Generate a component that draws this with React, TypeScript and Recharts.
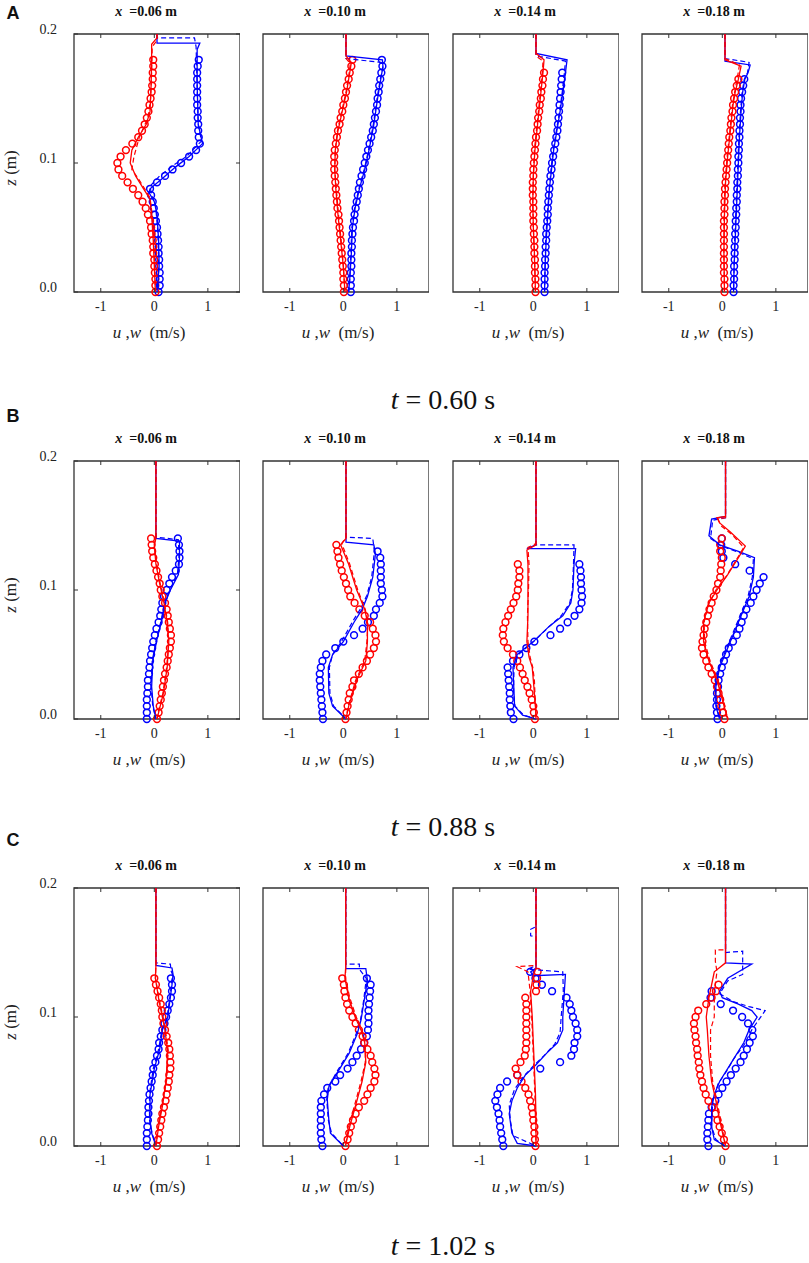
import React from "react";
import { ScatterChart, Scatter, XAxis, YAxis, ReferenceArea } from "recharts";

// measurement levels (m) shared by every experimental profile
const zLevels = [0, 0.005, 0.01, 0.015, 0.02, 0.025, 0.03, 0.035, 0.04, 0.045, 0.05, 0.055, 0.06, 0.065, 0.07, 0.075, 0.08, 0.085, 0.09, 0.095, 0.1, 0.105, 0.11, 0.115, 0.12, 0.125, 0.13, 0.135, 0.14, 0.145, 0.15, 0.155, 0.16, 0.165, 0.17, 0.175, 0.18];
const xTicks = [-1, 0, 1];
const zTicks = [0, 0.1, 0.2];
const stations = ["0.06", "0.10", "0.14", "0.18"];
const times = ["0.60", "0.88", "1.02"];

// ---- t = 0.60 s ----
const A1_uExp = [0.08, 0.1, 0.1, 0.1, 0.09, 0.09, 0.08, 0.08, 0.07, 0.06, 0.05, 0.03, 0.01, -0.01, -0.03, -0.06, -0.08, 0.05, 0.2, 0.34, 0.5, 0.65, 0.78, 0.85, 0.83, 0.82, 0.82, 0.81, 0.81, 0.8, 0.8, 0.8, 0.8, 0.8, 0.8, 0.81, 0.83];
const A1_wExp = [0.02, 0.02, 0.02, 0.01, 0, 0, -0.02, -0.02, -0.03, -0.05, -0.06, -0.08, -0.12, -0.16, -0.22, -0.3, -0.4, -0.5, -0.6, -0.67, -0.69, -0.63, -0.53, -0.41, -0.3, -0.23, -0.18, -0.14, -0.11, -0.09, -0.07, -0.05, -0.04, -0.03, -0.03, -0.02, -0.02];
const A1_uSolid = [[0.05, 0.2], [0.05, 0.193], [0.85, 0.193], [0.8, 0.188], [0.8, 0.16], [0.82, 0.13], [0.9, 0.115], [0.65, 0.105], [0.4, 0.097], [0.15, 0.088], [-0.08, 0.08], [-0.1, 0.077], [0, 0.07], [0.05, 0.06], [0.08, 0.04], [0.09, 0.02], [0.05, 0]];
const A1_uDash = [[0.05, 0.2], [0.05, 0.197], [0.75, 0.197], [0.78, 0.19], [0.8, 0.16], [0.82, 0.13], [0.88, 0.117], [0.6, 0.105], [0.35, 0.098], [0.1, 0.09], [-0.08, 0.082], [-0.05, 0.075], [0.02, 0.068], [0.06, 0.05], [0.08, 0.03], [0.08, 0.01], [0.07, 0]];
const A1_wSolid = [[0.05, 0.2], [0.05, 0.197], [-0.05, 0.192], [-0.05, 0.18], [-0.06, 0.16], [-0.08, 0.14], [-0.15, 0.13], [-0.3, 0.12], [-0.42, 0.11], [-0.45, 0.1], [-0.35, 0.09], [-0.2, 0.08], [-0.08, 0.072], [-0.05, 0.06], [-0.02, 0.04], [0, 0.02], [0.02, 0]];
const A1_wDash = [[0.05, 0.2], [0.05, 0.195], [-0.04, 0.19], [-0.05, 0.17], [-0.07, 0.15], [-0.12, 0.135], [-0.28, 0.12], [-0.38, 0.105], [-0.42, 0.095], [-0.3, 0.088], [-0.18, 0.08], [-0.08, 0.073], [-0.04, 0.06], [-0.01, 0.04], [0.01, 0.02], [0.02, 0]];

const A2_uExp = [0.14, 0.14, 0.14, 0.14, 0.15, 0.15, 0.15, 0.16, 0.16, 0.17, 0.18, 0.2, 0.21, 0.23, 0.25, 0.27, 0.29, 0.31, 0.34, 0.37, 0.4, 0.43, 0.46, 0.49, 0.52, 0.55, 0.57, 0.59, 0.61, 0.63, 0.64, 0.66, 0.67, 0.69, 0.71, 0.73, 0.72];
const A2_wExp = [0.01, 0.01, 0, 0, -0.01, -0.02, -0.03, -0.04, -0.05, -0.06, -0.07, -0.08, -0.09, -0.11, -0.12, -0.13, -0.14, -0.15, -0.16, -0.17, -0.17, -0.17, -0.16, -0.14, -0.12, -0.1, -0.07, -0.05, -0.02, 0, 0.03, 0.05, 0.07, 0.1, 0.12, 0.15, 0.17];
const A2_uSolid = [[0.05, 0.2], [0.05, 0.183], [0.73, 0.18], [0.74, 0.175], [0.7, 0.165], [0.64, 0.15], [0.57, 0.13], [0.48, 0.11], [0.4, 0.095], [0.3, 0.08], [0.22, 0.065], [0.17, 0.05], [0.15, 0.03], [0.12, 0.01], [0.1, 0]];
const A2_uDash = [[0.05, 0.2], [0.05, 0.181], [0.7, 0.178], [0.74, 0.174], [0.69, 0.165], [0.63, 0.15], [0.56, 0.13], [0.47, 0.11], [0.39, 0.095], [0.29, 0.08], [0.21, 0.065], [0.16, 0.05], [0.14, 0.03], [0.12, 0.01], [0.1, 0]];
const A2_wSolid = [[0.05, 0.2], [0.05, 0.183], [0.15, 0.178], [0.12, 0.17], [0.06, 0.155], [-0.02, 0.14], [-0.1, 0.125], [-0.15, 0.11], [-0.16, 0.095], [-0.14, 0.08], [-0.1, 0.06], [-0.05, 0.04], [0, 0.02], [0.03, 0]];
const A2_wDash = [[0.05, 0.2], [0.05, 0.181], [0.13, 0.177], [0.11, 0.17], [0.05, 0.155], [-0.03, 0.14], [-0.11, 0.125], [-0.15, 0.11], [-0.16, 0.095], [-0.13, 0.08], [-0.09, 0.06], [-0.04, 0.04], [0, 0.02], [0.03, 0]];

const A3_uExp = [0.21, 0.21, 0.21, 0.21, 0.22, 0.22, 0.23, 0.23, 0.24, 0.24, 0.25, 0.26, 0.27, 0.27, 0.28, 0.29, 0.3, 0.31, 0.32, 0.34, 0.35, 0.37, 0.39, 0.41, 0.43, 0.45, 0.46, 0.47, 0.48, 0.49, 0.5, 0.51, 0.52, 0.53, 0.54];
const A3_wExp = [0.04, 0.04, 0.04, 0.03, 0.03, 0.03, 0.02, 0.02, 0.02, 0.01, 0.01, 0, 0, 0, 0, -0.01, -0.01, -0.01, 0, 0, 0.01, 0.02, 0.03, 0.04, 0.05, 0.07, 0.08, 0.09, 0.11, 0.12, 0.14, 0.15, 0.17, 0.18, 0.2];
const A3_uSolid = [[0.05, 0.2], [0.05, 0.185], [0.63, 0.18], [0.6, 0.17], [0.55, 0.155], [0.5, 0.14], [0.44, 0.125], [0.38, 0.11], [0.34, 0.095], [0.3, 0.08], [0.27, 0.06], [0.24, 0.04], [0.22, 0.02], [0.21, 0]];
const A3_uDash = [[0.05, 0.2], [0.05, 0.183], [0.6, 0.179], [0.58, 0.17], [0.54, 0.155], [0.49, 0.14], [0.43, 0.125], [0.37, 0.11], [0.33, 0.095], [0.3, 0.08], [0.26, 0.06], [0.23, 0.04], [0.22, 0.02], [0.21, 0]];
const A3_wSolid = [[0.05, 0.2], [0.05, 0.185], [0.2, 0.18], [0.18, 0.17], [0.13, 0.15], [0.08, 0.13], [0.03, 0.11], [0, 0.09], [-0.01, 0.07], [0, 0.05], [0.02, 0.03], [0.04, 0]];
const A3_wDash = [[0.05, 0.2], [0.05, 0.183], [0.18, 0.179], [0.17, 0.17], [0.12, 0.15], [0.07, 0.13], [0.02, 0.11], [0, 0.09], [-0.01, 0.07], [0, 0.05], [0.02, 0.03], [0.04, 0]];

const A4_uExp = [0.21, 0.21, 0.22, 0.22, 0.22, 0.23, 0.23, 0.23, 0.24, 0.24, 0.25, 0.25, 0.26, 0.26, 0.27, 0.27, 0.28, 0.28, 0.29, 0.29, 0.3, 0.3, 0.31, 0.31, 0.32, 0.32, 0.33, 0.33, 0.34, 0.34, 0.35, 0.37, 0.39, 0.41];
const A4_wExp = [0.04, 0.04, 0.04, 0.03, 0.03, 0.03, 0.03, 0.03, 0.03, 0.03, 0.03, 0.03, 0.04, 0.04, 0.04, 0.05, 0.05, 0.06, 0.07, 0.08, 0.09, 0.1, 0.11, 0.12, 0.13, 0.15, 0.16, 0.17, 0.19, 0.2, 0.22, 0.24, 0.27, 0.3];
const A4_uSolid = [[0.05, 0.2], [0.05, 0.179], [0.52, 0.176], [0.48, 0.17], [0.42, 0.165], [0.38, 0.155], [0.35, 0.14], [0.32, 0.12], [0.3, 0.1], [0.28, 0.08], [0.26, 0.06], [0.24, 0.04], [0.22, 0.02], [0.21, 0]];
const A4_uDash = [[0.05, 0.2], [0.05, 0.181], [0.5, 0.178], [0.47, 0.17], [0.41, 0.165], [0.37, 0.155], [0.34, 0.14], [0.31, 0.12], [0.29, 0.1], [0.27, 0.08], [0.25, 0.06], [0.23, 0.04], [0.22, 0.02], [0.21, 0]];
const A4_wSolid = [[0.05, 0.2], [0.05, 0.18], [0.35, 0.175], [0.3, 0.165], [0.24, 0.155], [0.2, 0.145], [0.15, 0.125], [0.1, 0.105], [0.06, 0.085], [0.04, 0.06], [0.03, 0.03], [0.04, 0]];
const A4_wDash = [[0.05, 0.2], [0.05, 0.181], [0.32, 0.176], [0.28, 0.166], [0.23, 0.155], [0.19, 0.145], [0.14, 0.125], [0.09, 0.105], [0.05, 0.085], [0.03, 0.06], [0.03, 0.03], [0.04, 0]];

// ---- t = 0.88 s ----
const B1_uExp = [-0.14, -0.14, -0.14, -0.14, -0.13, -0.12, -0.12, -0.1, -0.09, -0.08, -0.06, -0.04, -0.02, 0.01, 0.04, 0.08, 0.11, 0.13, 0.15, 0.18, 0.23, 0.28, 0.33, 0.4, 0.46, 0.47, 0.47, 0.46, 0.44];
const B1_wExp = [0.05, 0.08, 0.1, 0.12, 0.14, 0.16, 0.18, 0.2, 0.23, 0.25, 0.27, 0.29, 0.31, 0.31, 0.29, 0.27, 0.25, 0.23, 0.2, 0.15, 0.12, 0.1, 0.07, 0.04, 0.01, -0.02, -0.04, -0.05, -0.06];
const B1_uSolid = [[0.03, 0.2], [0.03, 0.14], [0.47, 0.138], [0.47, 0.125], [0.45, 0.112], [0.3, 0.1], [0.2, 0.09], [0.13, 0.075], [0.05, 0.062], [-0.03, 0.045], [-0.05, 0.025], [-0.02, 0.01], [0.03, 0]];
const B1_uDash = [[0.03, 0.2], [0.03, 0.141], [0.45, 0.139], [0.46, 0.125], [0.43, 0.112], [0.29, 0.1], [0.19, 0.09], [0.12, 0.075], [0.04, 0.062], [-0.04, 0.045], [-0.06, 0.025], [-0.03, 0.01], [0.03, 0]];
const B1_wSolid = [[0.03, 0.2], [0.03, 0.14], [0, 0.135], [0.03, 0.12], [0.1, 0.105], [0.18, 0.09], [0.24, 0.075], [0.27, 0.06], [0.24, 0.04], [0.17, 0.02], [0.08, 0.005], [0.05, 0]];
const B1_wDash = [[0.03, 0.2], [0.03, 0.141], [0, 0.136], [0.04, 0.12], [0.11, 0.105], [0.19, 0.09], [0.25, 0.075], [0.27, 0.06], [0.23, 0.04], [0.16, 0.02], [0.07, 0.005], [0.05, 0]];

const B2_uExp = [-0.38, -0.39, -0.4, -0.41, -0.42, -0.43, -0.44, -0.44, -0.42, -0.39, -0.32, -0.15, 0, 0.2, 0.36, 0.46, 0.57, 0.61, 0.68, 0.73, 0.72, 0.7, 0.7, 0.7, 0.7, 0.69, 0.64];
const B2_wExp = [0.04, 0.06, 0.08, 0.1, 0.12, 0.17, 0.2, 0.29, 0.36, 0.44, 0.5, 0.57, 0.61, 0.6, 0.55, 0.5, 0.4, 0.3, 0.21, 0.13, 0.09, 0.05, 0.01, -0.03, -0.06, -0.09, -0.11, -0.13];
const B2_uSolid = [[0.05, 0.2], [0.05, 0.137], [0.57, 0.135], [0.6, 0.128], [0.55, 0.11], [0.45, 0.095], [0.35, 0.085], [0.2, 0.075], [0, 0.06], [-0.2, 0.05], [-0.28, 0.04], [-0.27, 0.02], [-0.2, 0.01], [0.05, 0]];
const B2_uDash = [[0.05, 0.2], [0.05, 0.141], [0.55, 0.14], [0.58, 0.13], [0.53, 0.11], [0.44, 0.096], [0.33, 0.086], [0.18, 0.076], [-0.02, 0.061], [-0.2, 0.05], [-0.26, 0.04], [-0.25, 0.02], [-0.18, 0.01], [0.05, 0]];
const B2_wSolid = [[0.05, 0.2], [0.05, 0.14], [-0.05, 0.135], [0.1, 0.12], [0.25, 0.1], [0.4, 0.085], [0.45, 0.075], [0.45, 0.06], [0.42, 0.045], [0.25, 0.03], [0.1, 0.01], [0.05, 0]];
const B2_wDash = [[0.05, 0.2], [0.05, 0.141], [-0.03, 0.136], [0.12, 0.12], [0.27, 0.1], [0.41, 0.085], [0.46, 0.075], [0.44, 0.06], [0.4, 0.045], [0.23, 0.03], [0.09, 0.01], [0.05, 0]];

const B3_uExp = [-0.37, -0.42, -0.43, -0.44, -0.44, -0.45, -0.46, -0.47, -0.48, -0.38, -0.26, -0.13, 0.02, 0.32, 0.5, 0.64, 0.77, 0.86, 0.9, 0.91, 0.9, 0.89, 0.89, 0.88, 0.86];
const B3_wExp = [0.03, 0.01, 0, -0.03, -0.07, -0.11, -0.16, -0.2, -0.25, -0.3, -0.38, -0.48, -0.55, -0.57, -0.56, -0.52, -0.47, -0.42, -0.37, -0.32, -0.29, -0.28, -0.26, -0.26, -0.29];
const B3_uSolid = [[0.05, 0.2], [0.05, 0.135], [-0.12, 0.132], [0.79, 0.132], [0.76, 0.12], [0.74, 0.1], [0.7, 0.09], [0.55, 0.08], [0.3, 0.072], [0, 0.06], [-0.3, 0.05], [-0.38, 0.04], [-0.36, 0.02], [-0.35, 0.01], [-0.2, 0.003], [0.05, 0]];
const B3_uDash = [[0.05, 0.2], [0.05, 0.135], [0.76, 0.135], [0.75, 0.12], [0.73, 0.1], [0.68, 0.09], [0.52, 0.08], [0.28, 0.071], [-0.02, 0.059], [-0.28, 0.05], [-0.36, 0.04], [-0.37, 0.02], [-0.34, 0.01], [-0.18, 0.003], [0.05, 0]];
const B3_wSolid = [[0.05, 0.2], [0.05, 0.135], [-0.12, 0.131], [-0.1, 0.12], [-0.1, 0.1], [-0.1, 0.08], [-0.12, 0.06], [-0.08, 0.048], [-0.02, 0.04], [0, 0.03], [0.04, 0.01], [0.05, 0]];
const B3_wDash = [[0.05, 0.2], [0.05, 0.136], [-0.1, 0.133], [-0.08, 0.12], [-0.09, 0.1], [-0.11, 0.08], [-0.1, 0.06], [-0.06, 0.048], [-0.01, 0.04], [0.02, 0.03], [0.04, 0.01], [0.05, 0]];

const B4_uExp = [-0.09, -0.1, -0.11, -0.1, -0.1, -0.08, -0.07, -0.04, -0.01, 0.03, 0.07, 0.12, 0.2, 0.27, 0.32, 0.36, 0.4, 0.45, 0.53, 0.58, 0.64, 0.7, 0.77, 0.51, 0.24, 0.02, -0.01, -0.02, -0.01];
const B4_wExp = [0.04, 0.01, -0.02, -0.04, -0.07, -0.1, -0.14, -0.2, -0.26, -0.3, -0.35, -0.38, -0.37, -0.35, -0.33, -0.3, -0.27, -0.24, -0.2, -0.16, -0.11, -0.08, -0.04, -0.03, -0.02, -0.01, -0.04, -0.04, -0.01];
const B4_uSolid = [[0.06, 0.2], [0.06, 0.157], [-0.2, 0.155], [-0.25, 0.142], [-0.05, 0.135], [0.3, 0.13], [0.6, 0.125], [0.58, 0.11], [0.5, 0.095], [0.35, 0.08], [0.2, 0.065], [0.05, 0.05], [-0.05, 0.04], [-0.12, 0.025], [-0.12, 0.01], [-0.05, 0]];
const B4_uDash = [[0.06, 0.2], [0.06, 0.156], [-0.18, 0.154], [-0.22, 0.14], [-0.02, 0.134], [0.32, 0.129], [0.58, 0.124], [0.56, 0.11], [0.48, 0.095], [0.33, 0.08], [0.18, 0.065], [0.03, 0.05], [-0.07, 0.04], [-0.13, 0.025], [-0.11, 0.01], [-0.05, 0]];
const B4_wSolid = [[0.06, 0.2], [0.06, 0.157], [-0.1, 0.156], [-0.05, 0.152], [0.15, 0.145], [0.43, 0.134], [0.3, 0.125], [0.1, 0.112], [-0.1, 0.1], [-0.25, 0.09], [-0.35, 0.075], [-0.35, 0.06], [-0.25, 0.045], [-0.1, 0.03], [0, 0.015], [0.1, 0]];
const B4_wDash = [[0.06, 0.2], [0.06, 0.156], [-0.08, 0.155], [-0.03, 0.15], [0.18, 0.143], [0.4, 0.133], [0.27, 0.124], [0.08, 0.111], [-0.12, 0.1], [-0.27, 0.088], [-0.34, 0.075], [-0.33, 0.06], [-0.23, 0.045], [-0.08, 0.03], [0.02, 0.015], [0.1, 0]];

// ---- t = 1.02 s ----
const C1_uExp = [-0.14, -0.14, -0.14, -0.13, -0.12, -0.11, -0.11, -0.1, -0.09, -0.07, -0.05, -0.03, -0.02, 0.02, 0.05, 0.08, 0.09, 0.12, 0.15, 0.19, 0.22, 0.25, 0.28, 0.31, 0.33, 0.33, 0.31];
const C1_wExp = [0.05, 0.07, 0.09, 0.11, 0.13, 0.15, 0.18, 0.21, 0.23, 0.25, 0.27, 0.28, 0.3, 0.3, 0.29, 0.28, 0.26, 0.23, 0.2, 0.17, 0.15, 0.14, 0.12, 0.09, 0.06, 0.03, 0];
const C1_uSolid = [[0.03, 0.2], [0.03, 0.14], [0.33, 0.138], [0.35, 0.133], [0.33, 0.125], [0.25, 0.1], [0.15, 0.09], [0.1, 0.075], [0, 0.06], [-0.08, 0.04], [-0.08, 0.02], [-0.05, 0.01], [0.03, 0]];
const C1_uDash = [[0.03, 0.2], [0.03, 0.142], [0.3, 0.141], [0.31, 0.136], [0.34, 0.133], [0.32, 0.125], [0.24, 0.1], [0.14, 0.09], [0.08, 0.075], [-0.02, 0.06], [-0.09, 0.04], [-0.09, 0.02], [-0.04, 0.01], [0.03, 0]];
const C1_wSolid = [[0.03, 0.2], [0.03, 0.14], [0.02, 0.13], [0.09, 0.112], [0.19, 0.092], [0.25, 0.074], [0.22, 0.051], [0.16, 0.033], [0.08, 0.015], [0.03, 0]];
const C1_wDash = [[0.03, 0.2], [0.03, 0.141], [0.02, 0.13], [0.1, 0.112], [0.2, 0.092], [0.26, 0.074], [0.23, 0.051], [0.15, 0.033], [0.07, 0.015], [0.03, 0]];

const C2_uExp = [-0.39, -0.41, -0.42, -0.42, -0.42, -0.42, -0.42, -0.41, -0.36, -0.3, -0.15, -0.06, 0.08, 0.17, 0.25, 0.33, 0.39, 0.44, 0.46, 0.47, 0.47, 0.47, 0.48, 0.49, 0.5, 0.51, 0.44];
const C2_wExp = [0.04, 0.08, 0.11, 0.14, 0.18, 0.23, 0.29, 0.39, 0.45, 0.51, 0.58, 0.6, 0.58, 0.54, 0.51, 0.45, 0.39, 0.36, 0.29, 0.23, 0.17, 0.11, 0.07, 0.04, 0.02, 0.01, -0.02];
const C2_uSolid = [[0.045, 0.2], [0.045, 0.1375], [0.42, 0.1375], [0.45, 0.1285], [0.39, 0.113], [0.33, 0.0975], [0.26, 0.087], [0.11, 0.072], [-0.08, 0.059], [-0.27, 0.046], [-0.3, 0.036], [-0.27, 0.02], [-0.24, 0.01], [0, 0]];
const C2_uDash = [[0.045, 0.2], [0.045, 0.141], [0.3, 0.141], [0.3, 0.137], [0.43, 0.13], [0.38, 0.113], [0.32, 0.0975], [0.24, 0.087], [0.09, 0.072], [-0.1, 0.059], [-0.28, 0.046], [-0.31, 0.036], [-0.28, 0.02], [-0.22, 0.01], [0, 0]];
const C2_wSolid = [[0.045, 0.2], [0.045, 0.139], [0.03, 0.13], [0.1, 0.115], [0.22, 0.1], [0.33, 0.09], [0.4, 0.08], [0.42, 0.065], [0.35, 0.05], [0.22, 0.03], [0.12, 0.015], [0.04, 0]];
const C2_wDash = [[0.045, 0.2], [0.045, 0.139], [0.04, 0.13], [0.12, 0.115], [0.24, 0.1], [0.35, 0.09], [0.41, 0.08], [0.41, 0.065], [0.33, 0.05], [0.2, 0.03], [0.1, 0.015], [0.04, 0]];

const C3_uExp = [-0.56, -0.58, -0.6, -0.62, -0.63, -0.65, -0.68, -0.71, -0.67, -0.62, -0.49, -0.3, 0.13, 0.5, 0.71, 0.76, 0.77, 0.82, 0.82, 0.79, 0.74, 0.71, 0.68, 0.62, 0.35, 0.16, 0.04, -0.06];
const C3_wExp = [0.04, 0.03, 0.02, 0.02, 0, -0.01, -0.03, -0.06, -0.09, -0.15, -0.22, -0.3, -0.33, -0.24, -0.16, -0.14, -0.13, -0.13, -0.13, -0.13, -0.13, -0.13, -0.13, -0.15, 0.05, 0.06, 0.07, 0.08];
const C3_uSolid = [[0.05, 0.2], [0.05, 0.138], [-0.05, 0.135], [0, 0.132], [0.6, 0.133], [0.58, 0.12], [0.55, 0.1], [0.55, 0.09], [0.45, 0.08], [0.25, 0.072], [0.05, 0.063], [-0.15, 0.055], [-0.3, 0.045], [-0.4, 0.035], [-0.45, 0.025], [-0.4, 0.01], [-0.3, 0.002], [0.05, 0]];
const C3_uDash = [[0.05, 0.2], [0.05, 0.17], [-0.05, 0.168], [-0.05, 0.163], [0.05, 0.162], [0.05, 0.14], [-0.1, 0.137], [0.55, 0.135], [0.56, 0.12], [0.52, 0.1], [0.5, 0.088], [0.4, 0.079], [0.2, 0.07], [0, 0.062], [-0.18, 0.054], [-0.35, 0.044], [-0.45, 0.032], [-0.43, 0.02], [-0.38, 0.008], [0.05, 0]];
const C3_wSolid = [[0.05, 0.2], [0.05, 0.138], [0, 0.132], [-0.05, 0.12], [-0.02, 0.1], [0, 0.08], [0.02, 0.06], [0.04, 0.04], [0.05, 0.02], [0.05, 0]];
const C3_wDash = [[0.05, 0.2], [0.05, 0.14], [-0.3, 0.139], [-0.1, 0.135], [-0.06, 0.12], [-0.03, 0.1], [-0.01, 0.08], [0.01, 0.06], [0.03, 0.04], [0.05, 0]];

const C4_uExp = [-0.26, -0.28, -0.28, -0.27, -0.26, -0.25, -0.2, -0.13, -0.07, 0, 0.08, 0.16, 0.25, 0.34, 0.4, 0.46, 0.51, 0.57, 0.56, 0.48, 0.37, 0.2, -0.03, -0.22, -0.2];
const C4_wExp = [0.06, 0.03, -0.01, -0.05, -0.09, -0.13, -0.19, -0.26, -0.31, -0.35, -0.38, -0.41, -0.43, -0.44, -0.46, -0.47, -0.49, -0.5, -0.52, -0.53, -0.5, -0.45, -0.3, -0.2, -0.12, -0.07];
const C4_uSolid = [[0.06, 0.2], [0.06, 0.142], [0.55, 0.141], [0.1, 0.13], [-0.05, 0.12], [0, 0.115], [0.3, 0.11], [0.55, 0.105], [0.65, 0.1], [0.5, 0.09], [0.4, 0.08], [0.25, 0.07], [0.1, 0.06], [-0.05, 0.05], [-0.15, 0.04], [-0.2, 0.03], [-0.2, 0.015], [-0.15, 0.005], [0.05, 0]];
const C4_uDash = [[0.06, 0.2], [0.06, 0.15], [0.38, 0.151], [0.38, 0.133], [0.1, 0.128], [-0.05, 0.118], [0.2, 0.112], [0.5, 0.108], [0.8, 0.105], [0.55, 0.09], [0.4, 0.078], [0.22, 0.068], [0.08, 0.058], [-0.08, 0.048], [-0.18, 0.035], [-0.2, 0.015], [-0.12, 0.005], [0.05, 0]];
const C4_wSolid = [[0.06, 0.2], [0.06, 0.142], [-0.15, 0.135], [-0.2, 0.125], [-0.25, 0.115], [-0.3, 0.1], [-0.28, 0.09], [-0.25, 0.07], [-0.2, 0.05], [-0.12, 0.035], [-0.05, 0.02], [0.06, 0]];
const C4_wDash = [[0.06, 0.2], [0.06, 0.152], [-0.13, 0.152], [-0.13, 0.143], [-0.1, 0.135], [-0.15, 0.12], [-0.15, 0.1], [-0.22, 0.09], [-0.22, 0.07], [-0.18, 0.05], [-0.1, 0.035], [-0.03, 0.02], [0.06, 0]];

const rows = [
  [
    { uExp: A1_uExp, wExp: A1_wExp, uS: A1_uSolid, uD: A1_uDash, wS: A1_wSolid, wD: A1_wDash },
    { uExp: A2_uExp, wExp: A2_wExp, uS: A2_uSolid, uD: A2_uDash, wS: A2_wSolid, wD: A2_wDash },
    { uExp: A3_uExp, wExp: A3_wExp, uS: A3_uSolid, uD: A3_uDash, wS: A3_wSolid, wD: A3_wDash },
    { uExp: A4_uExp, wExp: A4_wExp, uS: A4_uSolid, uD: A4_uDash, wS: A4_wSolid, wD: A4_wDash },
  ],
  [
    { uExp: B1_uExp, wExp: B1_wExp, uS: B1_uSolid, uD: B1_uDash, wS: B1_wSolid, wD: B1_wDash },
    { uExp: B2_uExp, wExp: B2_wExp, uS: B2_uSolid, uD: B2_uDash, wS: B2_wSolid, wD: B2_wDash },
    { uExp: B3_uExp, wExp: B3_wExp, uS: B3_uSolid, uD: B3_uDash, wS: B3_wSolid, wD: B3_wDash },
    { uExp: B4_uExp, wExp: B4_wExp, uS: B4_uSolid, uD: B4_uDash, wS: B4_wSolid, wD: B4_wDash },
  ],
  [
    { uExp: C1_uExp, wExp: C1_wExp, uS: C1_uSolid, uD: C1_uDash, wS: C1_wSolid, wD: C1_wDash },
    { uExp: C2_uExp, wExp: C2_wExp, uS: C2_uSolid, uD: C2_uDash, wS: C2_wSolid, wD: C2_wDash },
    { uExp: C3_uExp, wExp: C3_wExp, uS: C3_uSolid, uD: C3_uDash, wS: C3_wSolid, wD: C3_wDash },
    { uExp: C4_uExp, wExp: C4_wExp, uS: C4_uSolid, uD: C4_uDash, wS: C4_wSolid, wD: C4_wDash },
  ],
];

const BLUE = "#0000ff";
const RED = "#ff0000";
const INK = "#222";
const SERIF = "Liberation Serif, Times New Roman, serif";

// page geometry of the plot boxes
const colLeft = [74, 263, 453, 642];
const rowTop = [34, 461, 888];
const letterY = [13, 416, 840];
const timeY = [400, 827, 1246];
const letters = ["A", "B", "C"];
const PW = 166;
const PH = 258;
const YW = 40;
const MT = 16;
const XH = 30;

const expPts = (vals: number[]) => vals.map((v, i) => ({ v, z: zLevels[i] }));
const linePts = (pts: number[][]) => pts.map(([v, z]) => ({ v, z }));

const ring = (color: string) => (p: any) =>
  <circle cx={p.cx} cy={p.cy} r={3.4} fill="none" stroke={color} strokeWidth={1.5} />;
const noMark = () => <g />;

const XTick = (p: any) => (
  <g>
    <line x1={p.x} x2={p.x} y1={MT + PH} y2={MT + PH - 4} stroke="#333" />
    <line x1={p.x} x2={p.x} y1={MT} y2={MT + 4} stroke="#333" />
    <text x={p.x} y={MT + PH + 19} textAnchor="middle" style={{ fontFamily: SERIF, fontSize: 14 }} fill={INK}>
      {p.payload.value}
    </text>
  </g>
);

const YTick = (p: any) => (
  <g>
    <line x1={YW} x2={YW + 4} y1={p.y} y2={p.y} stroke="#333" />
    <line x1={YW + PW - 4} x2={YW + PW} y1={p.y} y2={p.y} stroke="#333" />
    <text x={YW - 17} y={p.y} textAnchor="end" style={{ fontFamily: SERIF, fontSize: 14 }} fill={INK}>
      {p.payload.value.toFixed(1)}
    </text>
  </g>
);

function Panel({ d, left, top, showY }: any) {
  return (
    <div style={{ position: "absolute", left: left - YW, top: top - MT }}>
      <ScatterChart width={YW + PW} height={MT + PH + XH} margin={{ top: MT, right: 0, bottom: 0, left: 0 }}>
        <XAxis type="number" dataKey="v" domain={[-1.5, 1.6]} ticks={xTicks} interval={0}
          axisLine={false} tickLine={false} tick={XTick} height={XH} />
        <YAxis type="number" dataKey="z" domain={[0, 0.2]} ticks={zTicks} interval={0}
          axisLine={false} tickLine={false} tick={showY ? YTick : false} width={YW} />
        <ReferenceArea x1={-1.5} x2={1.6} y1={0} y2={0.2} fill="none" fillOpacity={0} stroke="#333" strokeWidth={1.3} />
        <Scatter data={expPts(d.uExp)} shape={ring(BLUE)} isAnimationActive={false} />
        <Scatter data={expPts(d.wExp)} shape={ring(RED)} isAnimationActive={false} />
        <Scatter data={linePts(d.uD)} fill="none" shape={noMark} isAnimationActive={false}
          line={{ stroke: BLUE, strokeWidth: 1.2, strokeDasharray: "5 3" }} />
        <Scatter data={linePts(d.uS)} fill="none" shape={noMark} isAnimationActive={false}
          line={{ stroke: BLUE, strokeWidth: 1.3 }} />
        <Scatter data={linePts(d.wD)} fill="none" shape={noMark} isAnimationActive={false}
          line={{ stroke: RED, strokeWidth: 1.2, strokeDasharray: "5 3" }} />
        <Scatter data={linePts(d.wS)} fill="none" shape={noMark} isAnimationActive={false}
          line={{ stroke: RED, strokeWidth: 1.3 }} />
      </ScatterChart>
    </div>
  );
}

const at = (x: number, y: number, extra: any = {}) => ({
  position: "absolute" as const,
  left: x,
  top: y,
  transform: "translate(-50%, -50%)",
  whiteSpace: "nowrap" as const,
  fontFamily: SERIF,
  color: INK,
  lineHeight: 1,
  ...extra,
});

export default function App() {
  return (
    <div style={{ position: "absolute", left: 0, top: 0, width: 809, height: 1263, overflow: "hidden", background: "#fff" }}>
      {rows.map((row, r) => (
        <React.Fragment key={r}>
          <div style={at(13, letterY[r], { fontFamily: "Liberation Sans, Arial, sans-serif", fontWeight: 700, fontSize: 18, color: "#111" })}>
            {letters[r]}
          </div>
          <div style={at(10, rowTop[r] + 134, { fontSize: 17, transform: "translate(-50%, -50%) rotate(-90deg)" })}>
            <i>z</i> (m)
          </div>
          {row.map((d, c) => (
            <React.Fragment key={c}>
              <div style={at(colLeft[c] + PW / 2 - 11, rowTop[r] - 22, { fontSize: 14, fontWeight: 700, color: "#111" })}>
                <i>x</i>&nbsp; ={stations[c]} m
              </div>
              <Panel d={d} left={colLeft[c]} top={rowTop[r]} showY={c === 0} />
              <div style={at(colLeft[c] + PW / 2 - 8, rowTop[r] + PH + 40, { fontSize: 17 })}>
                <i>u</i> ,<i>w</i>&nbsp;&nbsp;(m/s)
              </div>
            </React.Fragment>
          ))}
          <div style={at(443, timeY[r], { fontSize: 28, color: "#111" })}>
            <i>t</i> = {times[r]} s
          </div>
        </React.Fragment>
      ))}
    </div>
  );
}
